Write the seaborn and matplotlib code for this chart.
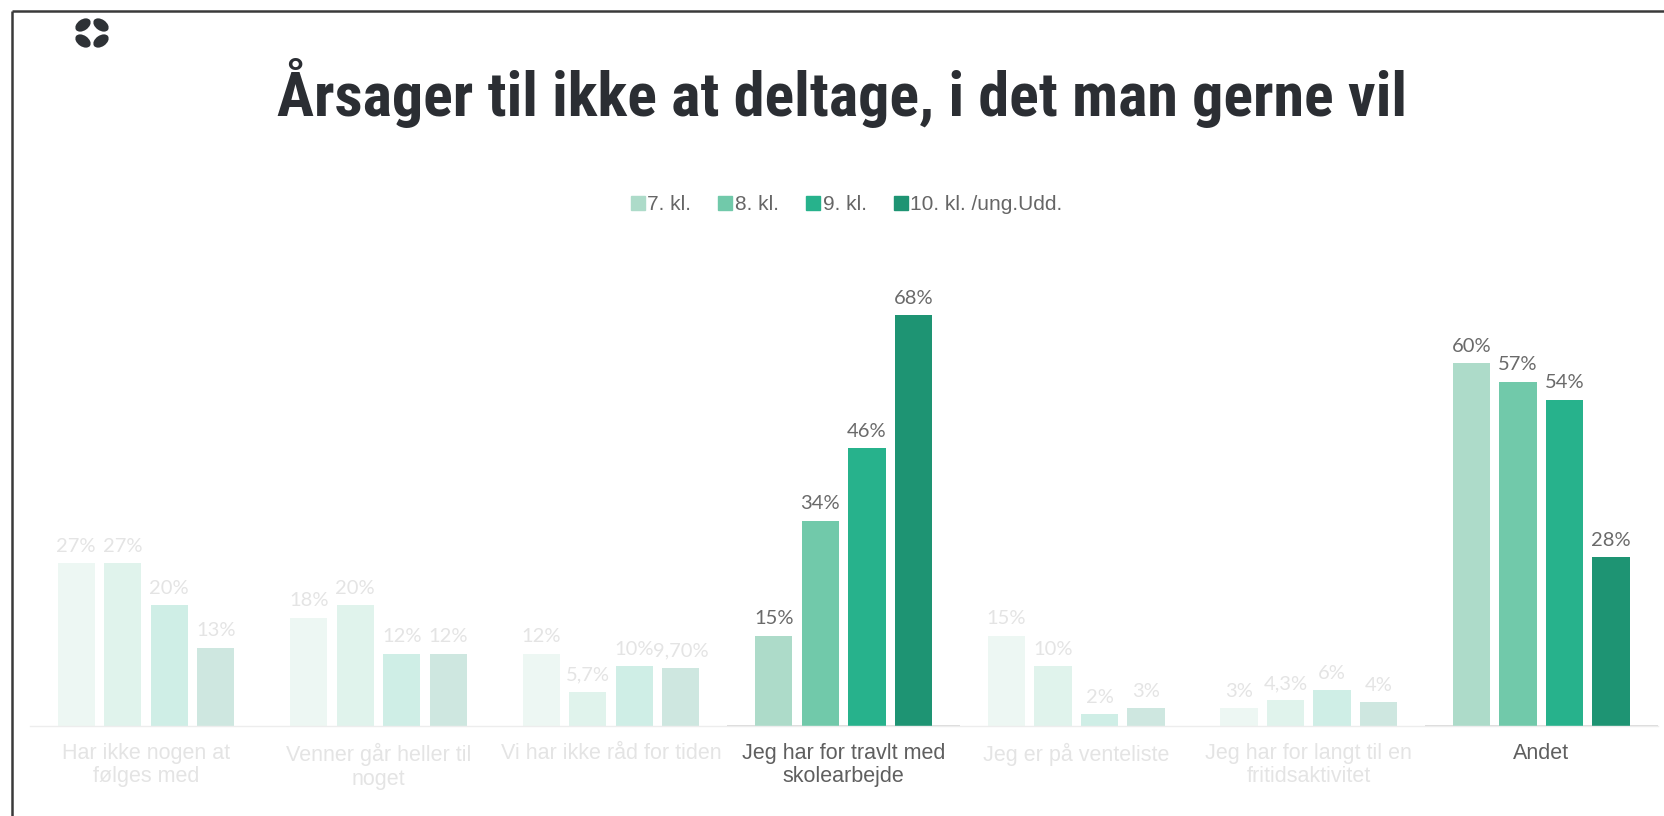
import matplotlib
matplotlib.use("Agg")
import matplotlib.pyplot as plt
from matplotlib import font_manager
from matplotlib.patches import Ellipse
from matplotlib.lines import Line2D
import matplotlib.colors as mcolors
import seaborn as sns
import pandas as pd

# ---------------- data ----------------
categories = [
    "Har ikke nogen at\nfølges med",
    "Venner går heller til\nnoget",
    "Vi har ikke råd for tiden",
    "Jeg har for travlt med\nskolearbejde",
    "Jeg er på venteliste",
    "Jeg har for langt til en\nfritidsaktivitet",
    "Andet",
]
series = ["7. kl.", "8. kl.", "9. kl.", "10. kl. /ung.Udd."]
kl7 = [27, 18, 12, 15, 15, 3, 60]
kl8 = [27, 20, 5.7, 34, 10, 4.3, 57]
kl9 = [20, 12, 10, 46, 2, 6, 54]
kl10 = [13, 12, 9.7, 68, 3, 4, 28]
lab7 = ["27%", "18%", "12%", "15%", "15%", "3%", "60%"]
lab8 = ["27%", "20%", "5,7%", "34%", "10%", "4,3%", "57%"]
lab9 = ["20%", "12%", "10%", "46%", "2%", "6%", "54%"]
lab10 = ["13%", "12%", "9,70%", "68%", "3%", "4%", "28%"]
highlighted = [categories[3], categories[6]]
title = "Årsager til ikke at deltage, i det man gerne vil"

values = [kl7, kl8, kl9, kl10]
labels = [lab7, lab8, lab9, lab10]
colors = ["#ADDBC9", "#71C9AA", "#27B28C", "#1E9473"]

rows = []
for s, vals in zip(series, values):
    for c, v in zip(categories, vals):
        rows.append({"cat": c, "series": s, "value": v})
df = pd.DataFrame(rows)

# ---------------- fonts ----------------
sns.set_theme(style="white")
names = {f.name for f in font_manager.fontManager.ttflist}
base_font = "Liberation Sans" if "Liberation Sans" in names else "DejaVu Sans"
label_font = "Lato" if "Lato" in names else base_font
title_font = None
for cand in ["Liberation Sans Narrow", "DejaVu Sans Condensed", "Roboto Condensed", "Open Sans Condensed"]:
    if cand in names:
        title_font = cand
        break
if title_font is None:
    title_font = "Roboto"
plt.rcParams["font.family"] = [base_font, "DejaVu Sans"]

W, H = 1665, 816
fig = plt.figure(figsize=(W / 100, H / 100), dpi=100)
fig.patch.set_facecolor("white")

# ---------------- chart axes ----------------
ax_left, ax_right, ax_base = 29.7, 1657.6, 726.4
ymax = 80
px_per = 6.05
ax = fig.add_axes([ax_left / W, 1 - ax_base / H, (ax_right - ax_left) / W, ymax * px_per / H])

sns.barplot(data=df, x="cat", y="value", hue="series", order=categories,
            hue_order=series, palette=colors, saturation=1, width=0.8, gap=0.2,
            linewidth=0, legend=False, ax=ax)
ax.set_ylim(0, ymax)
ax.set_xlim(-0.5, len(categories) - 0.5)


def fade(c, a=0.22):
    r, g, b = mcolors.to_rgb(c)
    return (1 - a + a * r, 1 - a + a * g, 1 - a + a * b)


hl_text = "#5F5F5F"
fade_text = "#E4E4E4"
for hi, cont in enumerate(ax.containers):
    for ci, bar in enumerate(cont):
        is_hl = categories[ci] in highlighted
        if not is_hl:
            bar.set_facecolor(fade(colors[hi]))
        x = bar.get_x() + bar.get_width() / 2
        h = bar.get_height()
        ax.annotate(labels[hi][ci], (x, h), xytext=(0, 6), textcoords="offset points",
                    ha="center", va="bottom", fontsize=14.5, family=label_font,
                    color="#6A6A6A" if is_hl else fade_text)

for s in ["top", "right", "left"]:
    ax.spines[s].set_visible(False)
ax.spines["bottom"].set_color("#EDEDED")
ax.spines["bottom"].set_linewidth(1.0)
for ci, c in enumerate(categories):
    if c in highlighted:
        ax.plot([ci - 0.5, ci + 0.5], [0, 0], color="#D4D4D4", lw=1.2,
                solid_capstyle="butt", clip_on=False, zorder=0.5)
ax.set_yticks([])
ax.set_xlabel("")
ax.set_ylabel("")
ax.set_xticks(range(len(categories)))
ax.set_xticklabels(categories, fontsize=15.5, linespacing=1.15)
ax.tick_params(axis="x", length=0, pad=12)
for t, c in zip(ax.get_xticklabels(), categories):
    t.set_color(hl_text if c in highlighted else fade_text)

# ---------------- legend ----------------
handles = [Line2D([], [], marker="s", linestyle="none", markersize=9.5,
                  markerfacecolor=c, markeredgecolor=c) for c in colors]
leg = fig.legend(handles, series, loc="center", bbox_to_anchor=(846 / W, 1 - 205 / H),
                 ncol=4, frameon=False, fontsize=15, handletextpad=0.05,
                 columnspacing=1.25, handlelength=0.8)
for t in leg.get_texts():
    t.set_color("#666666")

# ---------------- decorations (pixel overlay) ----------------
ov = fig.add_axes([0, 0, 1, 1], zorder=-1)
ov.set_xlim(0, W)
ov.set_ylim(H, 0)
ov.axis("off")
ov.plot([12.5, W], [11, 11], color="#3A3A3A", lw=1.8, solid_capstyle="butt")
ov.plot([12.5, 12.5], [11, H], color="#3A3A3A", lw=1.8, solid_capstyle="butt")
logo = "#2E3236"
for (cx, cy, ang) in [(83, 25, -35), (101, 25, 35), (83, 41, 35), (101, 41, -35)]:
    ov.add_patch(Ellipse((cx, cy), 17, 11, angle=ang, color=logo, lw=0))

# ---------------- title ----------------
tt = fig.text(842 / W, 1 - 116.5 / H, title, ha="center", va="baseline",
              fontsize=54, fontweight="bold", family=title_font, color="#2B2E33")
fig.canvas.draw()
bb = tt.get_window_extent()
target_w = 1130
tt.set_fontsize(54 * target_w / bb.width)

fig.savefig("out.png", dpi=100, facecolor="white")
